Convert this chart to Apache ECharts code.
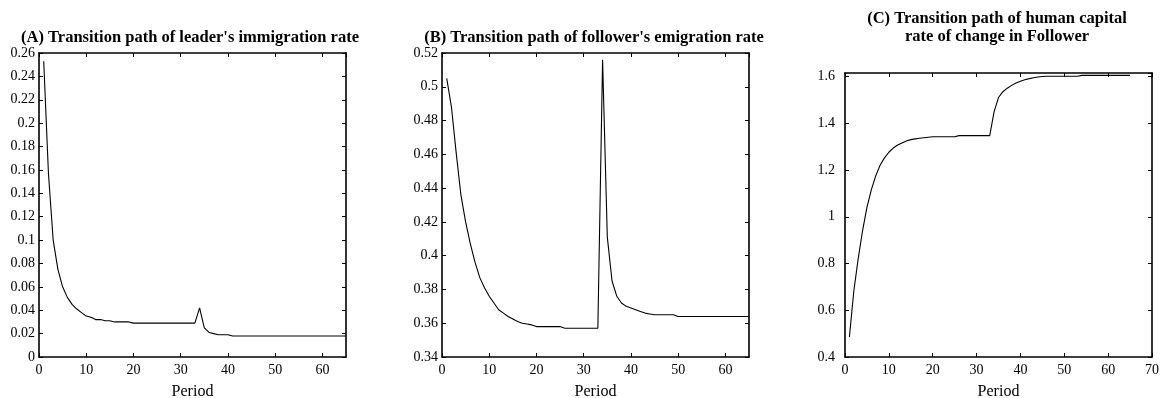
<!DOCTYPE html>
<html>
<head>
<meta charset="utf-8">
<script src="https://cdn.jsdelivr.net/npm/echarts@6/dist/echarts.min.js"></script>
<style>
html,body{margin:0;padding:0;background:#fff;}
#chart{width:1161px;height:398px;}
</style>
</head>
<body>
<div id="chart"></div>
<script>
const periods = [1,2,3,4,5,6,7,8,9,10,11,12,13,14,15,16,17,18,19,20,21,22,23,24,25,26,27,28,29,30,31,32,33,34,35,36,37,38,39,40,41,42,43,44,45,46,47,48,49,50,51,52,53,54,55,56,57,58,59,60,61,62,63,64,65];

// (A) leader's immigration rate
const leaderImmigration = [
  0.253,0.157,0.100,0.075,0.060,0.051,0.045,0.041,0.038,0.035,
  0.034,0.032,0.032,0.031,0.031,0.030,0.030,0.030,0.030,0.029,
  0.029,0.029,0.029,0.029,0.029,0.029,0.029,0.029,0.029,0.029,
  0.029,0.029,0.029,0.042,0.025,0.021,0.020,0.019,0.019,0.019,
  0.018,0.018,0.018,0.018,0.018,0.018,0.018,0.018,0.018,0.018,
  0.018,0.018,0.018,0.018,0.018,0.018,0.018,0.018,0.018,0.018,
  0.018,0.018,0.018,0.018,0.018
];

// (B) follower's emigration rate
const followerEmigration = [
  0.505,0.488,0.461,0.436,0.420,0.407,0.396,0.387,0.381,0.376,
  0.372,0.368,0.366,0.364,0.3625,0.361,0.360,0.3595,0.359,0.358,
  0.358,0.358,0.358,0.358,0.358,0.357,0.357,0.357,0.357,0.357,
  0.357,0.357,0.357,0.516,0.411,0.385,0.376,0.372,0.370,0.369,
  0.368,0.367,0.366,0.3655,0.365,0.365,0.365,0.365,0.365,0.364,
  0.364,0.364,0.364,0.364,0.364,0.364,0.364,0.364,0.364,0.364,
  0.364,0.364,0.364,0.364,0.364
];

// (C) human capital rate of change in Follower
const humanCapitalChange = [
  0.485,0.68,0.82,0.94,1.04,1.115,1.175,1.22,1.252,1.276,
  1.294,1.307,1.316,1.324,1.330,1.333,1.336,1.338,1.340,1.342,
  1.342,1.342,1.342,1.342,1.342,1.347,1.347,1.347,1.347,1.347,
  1.347,1.347,1.347,1.450,1.510,1.535,1.550,1.562,1.572,1.580,
  1.586,1.591,1.595,1.598,1.600,1.601,1.601,1.601,1.601,1.601,
  1.601,1.601,1.601,1.605,1.605,1.605,1.605,1.605,1.605,1.605,
  1.605,1.605,1.605,1.605,1.605
];

const titles = [
  "(A) Transition path of leader's immigration rate",
  "(B) Transition path of follower's emigration rate",
  "(C) Transition path of human capital\nrate of change in Follower"
];
const xAxisName = "Period";

const xRanges = [[0,65,10],[0,65,10],[0,70,10]];
const yRanges = [[0,0.26,0.02],[0.34,0.52,0.02],[0.4,1.615,0.2]];

const FONT = "'Liberation Serif','Times New Roman',serif";
const chart = echarts.init(document.getElementById('chart'), null, {renderer:'canvas'});

const grids = [
  {left:39, top:53, width:307, height:304, containLabel:false, outerBoundsMode:'none'},
  {left:442, top:53, width:307, height:304, containLabel:false, outerBoundsMode:'none'},
  {left:845, top:73, width:307, height:284, containLabel:false, outerBoundsMode:'none'}
];
const yMargins = [4, 4, 10];
const titleCenters = [190, 594, 997];
const titleTops = [28, 28, 9];

const xAxes = [], yAxes = [], series = [], graphics = [];
const fmt = v => String(+v.toFixed(3));
const seriesData = [leaderImmigration, followerEmigration, humanCapitalChange];

for (let i = 0; i < 3; i++) {
  const [xmin,xmax,xint] = xRanges[i];
  const [ymin,ymax,yint] = yRanges[i];
  const axLine = {show:true, onZero:false, lineStyle:{color:'#000', width:1.6}};
  const tick = {show:true, inside:true, length:4, lineStyle:{color:'#000', width:1}};
  xAxes.push({
    type:'value', gridIndex:i, position:'bottom', min:xmin, max:xmax, interval:xint,
    axisLine:axLine, axisTick:tick, splitLine:{show:false},
    axisLabel:{show:true, margin:6, color:'#000', fontFamily:FONT, fontSize:14, showMaxLabel: xmax % xint === 0, formatter:fmt},
    name:xAxisName, nameLocation:'middle', nameGap:27,
    nameTextStyle:{color:'#000', fontFamily:FONT, fontSize:16}
  });
  xAxes.push({
    type:'value', gridIndex:i, position:'top', min:xmin, max:xmax, interval:xint,
    axisLine:axLine, axisTick:tick, splitLine:{show:false}, axisLabel:{show:false}
  });
  yAxes.push({
    type:'value', gridIndex:i, position:'left', min:ymin, max:ymax, interval:yint,
    axisLine:axLine, axisTick:tick, splitLine:{show:false},
    axisLabel:{show:true, margin:yMargins[i], color:'#000', fontFamily:FONT, fontSize:14,
      showMaxLabel: Math.abs(ymax/yint - Math.round(ymax/yint)) < 1e-6, formatter:fmt}
  });
  yAxes.push({
    type:'value', gridIndex:i, position:'right', min:ymin, max:ymax, interval:yint,
    axisLine:axLine, axisTick:tick, splitLine:{show:false}, axisLabel:{show:false}
  });
  series.push({
    type:'line', xAxisIndex:2*i, yAxisIndex:2*i,
    data: periods.map((p,k)=>[p, seriesData[i][k]]),
    showSymbol:false, symbol:'none', smooth:false,
    lineStyle:{color:'#000', width:1.1}, animation:false, silent:true
  });
  graphics.push({
    type:'text', x:titleCenters[i], y:titleTops[i], silent:true,
    style:{text:titles[i], textAlign:'center', textVerticalAlign:'top',
      font:"bold 16.5px " + FONT, fill:'#000', lineHeight:18.5}
  });
}

chart.setOption({
  backgroundColor:'#fff',
  animation:false,
  grid:grids,
  xAxis:xAxes,
  yAxis:yAxes,
  series:series,
  graphic:graphics
});
</script>
</body>
</html>
